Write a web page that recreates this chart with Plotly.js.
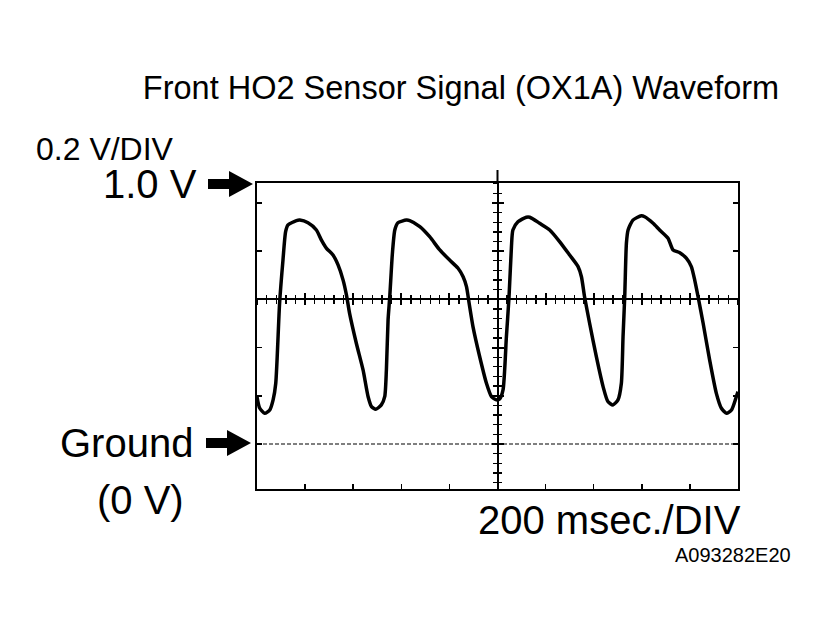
<!DOCTYPE html>
<html><head><meta charset="utf-8">
<script src="https://cdn.plot.ly/plotly-3.0.1.min.js"></script>
<style>html,body{margin:0;padding:0;background:#fff;}#chart{width:829px;height:637px;}</style>
</head><body><div id="chart"></div>
<script>
// ---- data ----
const timeMs = [0, 11, 32, 53, 67, 78, 94, 108, 119, 129, 164, 178, 212, 247, 268, 289, 316, 337, 358, 372,
  385, 413, 441, 462, 476, 494, 517, 531, 538, 545, 552, 563, 573, 586, 621, 635, 677, 718, 760, 801,
  836, 857, 871, 882, 898, 926, 954, 975, 995, 1009, 1023, 1037, 1048, 1058, 1064, 1085, 1120, 1134, 1175, 1217,
  1259, 1300, 1335, 1349, 1362, 1383, 1411, 1439, 1459, 1480, 1501, 1515, 1522, 1529, 1536, 1543, 1563, 1598, 1612, 1647,
  1674, 1709, 1730, 1758, 1785, 1806, 1820, 1834, 1855, 1882, 1910, 1931, 1952, 1973, 1993, 2000];
const signalV = [0.196, 0.149, 0.127, 0.141, 0.183, 0.252, 0.585, 0.763, 0.881, 0.909, 0.927, 0.929, 0.918, 0.888, 0.846, 0.812, 0.784, 0.743, 0.680, 0.618,
  0.542, 0.418, 0.307, 0.196, 0.155, 0.144, 0.162, 0.196, 0.307, 0.515, 0.611, 0.791, 0.888, 0.918, 0.929, 0.927, 0.902, 0.860, 0.805, 0.763,
  0.729, 0.694, 0.653, 0.584, 0.487, 0.362, 0.252, 0.196, 0.183, 0.187, 0.224, 0.445, 0.611, 0.819, 0.888, 0.922, 0.941, 0.941, 0.916, 0.888,
  0.839, 0.784, 0.736, 0.694, 0.611, 0.501, 0.362, 0.238, 0.176, 0.162, 0.183, 0.252, 0.445, 0.611, 0.833, 0.888, 0.929, 0.947, 0.943, 0.916,
  0.888, 0.854, 0.805, 0.794, 0.771, 0.736, 0.680, 0.611, 0.501, 0.349, 0.210, 0.148, 0.127, 0.141, 0.196, 0.217];
const groundV = 0;
const centerV = 0.6;
const centerMs = 1000;
const timeRangeMs = [0, 2000];
const voltRange = [-0.187, 1.083];
const msPerDiv = 200, msPerSubDiv = 40;
const vPerDiv = 0.2, vPerSubDiv = 0.04;
const titleText = 'Front HO2 Sensor Signal (OX1A) Waveform';
const vScaleText = '0.2 V/DIV';
const topLabel = '1.0 V';
const groundLabel = 'Ground';
const groundSub = '(0 V)';
const timeScaleText = '200 msec./DIV';
const codeText = 'A093282E20';

// ---- layout helpers ----
const W = 829, H = 637, M = {l: 257, r: 91, t: 183, b: 148, pad: 0};
const pw = W - M.l - M.r, ph = H - M.t - M.b;
const px = x => (x - M.l) / pw;
const py = y => (M.t + ph - y) / ph;
const FONT = 'Liberation Sans, Arial, Helvetica, sans-serif';

function arrowPath(tipX, tipY) {
  const pts = [[tipX - 45, tipY - 5], [tipX - 24, tipY - 5], [tipX - 24, tipY - 13], [tipX, tipY],
               [tipX - 24, tipY + 13], [tipX - 24, tipY + 5], [tipX - 45, tipY + 5]];
  return 'M' + pts.map(p => px(p[0]).toFixed(5) + ',' + py(p[1]).toFixed(5)).join(' L') + ' Z';
}
function label(text, x, y, size, xanchor) {
  return {text: text, xref: 'paper', yref: 'paper', x: px(x), y: py(y), xanchor: xanchor, yanchor: 'middle',
          showarrow: false, font: {family: FONT, size: size, color: '#000'}, borderpad: 0};
}

const centerFracY = (centerV - voltRange[0]) / (voltRange[1] - voltRange[0]);
const centerFracX = (centerMs - timeRangeMs[0]) / (timeRangeMs[1] - timeRangeMs[0]);

const hidden = {showticklabels: false, showgrid: false, zeroline: false, fixedrange: true};
const centerX = (side) => Object.assign({}, hidden, {
  overlaying: 'x', anchor: 'free', position: centerFracY, range: timeRangeMs, showline: true, linewidth: 2, linecolor: '#000',
  ticks: side, tick0: 0, dtick: msPerDiv, ticklen: 5, tickwidth: 2, tickcolor: '#000',
  minor: {ticks: side, tick0: 0, dtick: msPerSubDiv, ticklen: 3.5, tickwidth: 1.3, tickcolor: '#000', showgrid: false}
});
const centerY = (side) => Object.assign({}, hidden, {
  overlaying: 'y', anchor: 'free', position: centerFracX, range: voltRange, showline: true, linewidth: 2, linecolor: '#000',
  ticks: side, tick0: 0, dtick: vPerDiv, ticklen: 5, tickwidth: 2, tickcolor: '#000',
  minor: {ticks: side, tick0: 0, dtick: vPerSubDiv, ticklen: 3.5, tickwidth: 1.3, tickcolor: '#000', showgrid: false}
});

const traces = [
  {x: [], y: [], xaxis: 'x2', yaxis: 'y', type: 'scatter', hoverinfo: 'skip', showlegend: false},
  {x: [], y: [], xaxis: 'x3', yaxis: 'y', type: 'scatter', hoverinfo: 'skip', showlegend: false},
  {x: [], y: [], xaxis: 'x', yaxis: 'y2', type: 'scatter', hoverinfo: 'skip', showlegend: false},
  {x: [], y: [], xaxis: 'x', yaxis: 'y3', type: 'scatter', hoverinfo: 'skip', showlegend: false},
  {x: timeMs, y: signalV, xaxis: 'x', yaxis: 'y', type: 'scatter', mode: 'lines',
   line: {color: '#000', width: 3.5, shape: 'spline', smoothing: 0.6}, showlegend: false, hoverinfo: 'skip'}
];

const layout = {
  width: W, height: H, margin: M, paper_bgcolor: '#fff', plot_bgcolor: '#fff', showlegend: false,
  font: {family: FONT, color: '#000'},
  title: {text: titleText, xref: 'container', yref: 'container', x: 461 / W, y: 1 - 87.5 / H,
          xanchor: 'center', yanchor: 'middle', font: {family: FONT, size: 32.5, color: '#000'}},
  xaxis: Object.assign({}, hidden, {range: timeRangeMs, showline: true, linewidth: 2, linecolor: '#000', mirror: true,
          ticks: 'inside', tick0: 0, dtick: msPerDiv, ticklen: 5, tickwidth: 1.5, tickcolor: '#000'}),
  yaxis: Object.assign({}, hidden, {range: voltRange, showline: true, linewidth: 2, linecolor: '#000', mirror: 'ticks',
          ticks: 'inside', tick0: 0, dtick: vPerDiv, ticklen: 5, tickwidth: 1.5, tickcolor: '#000'}),
  xaxis2: centerX('outside'),
  xaxis3: centerX('inside'),
  yaxis2: centerY('outside'),
  yaxis3: centerY('inside'),
  shapes: [
    {type: 'line', xref: 'paper', x0: 0, x1: 1, yref: 'y', y0: groundV, y1: groundV,
     line: {color: '#000', width: 1.1, dash: '4px,2px'}},
    {type: 'line', xref: 'x', x0: centerMs, x1: centerMs, yref: 'paper', y0: 1, y1: py(170),
     line: {color: '#000', width: 2}},
    {type: 'path', xref: 'paper', yref: 'paper', path: arrowPath(253, 184), fillcolor: '#000', line: {width: 0}},
    {type: 'path', xref: 'paper', yref: 'paper', path: arrowPath(251, 443), fillcolor: '#000', line: {width: 0}}
  ],
  annotations: [
    label(vScaleText, 35, 149, 32, 'left'),
    label(topLabel, 198, 184, 40, 'right'),
    label(groundLabel, 194, 443, 40, 'right'),
    label(groundSub, 140, 500, 40, 'center'),
    label(timeScaleText, 609, 520, 40, 'center'),
    label(codeText, 733, 555, 20, 'center')
  ]
};

Plotly.newPlot('chart', traces, layout, {staticPlot: true, displayModeBar: false});
</script>
</body></html>
